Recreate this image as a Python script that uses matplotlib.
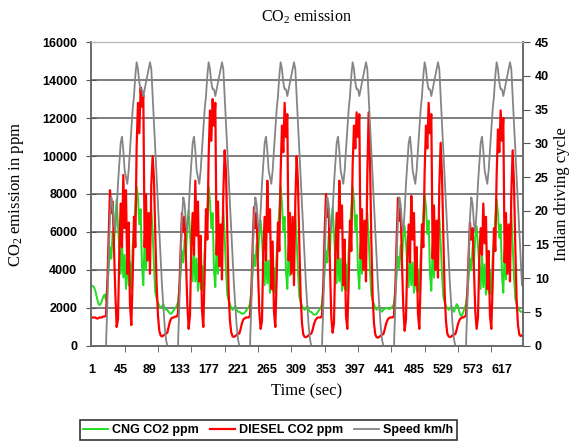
import numpy as np
import matplotlib.pyplot as plt

plt.rcParams['font.family'] = ['Liberation Sans', 'DejaVu Sans']

# time axis, one reading every 2 s, 6 repetitions of the 108 s Indian driving cycle
time_sec = np.arange(1, 648, 2)
x_labels = [1, 45, 89, 133, 177, 221, 265, 309, 353, 397, 441, 485, 529, 573, 617]

# speed profile of one driving cycle (idle then drive), km/h
speed_cycle = [0, 0, 0, 0, 0, 0, 0, 0,
               0, 6, 13, 19, 22, 21, 18, 17, 20, 24, 27, 30, 31, 29, 26, 25, 24, 26,
               29, 32, 35, 37, 40, 42, 41, 39, 38, 38, 37, 38, 39, 40, 41, 42, 41, 37,
               33, 29, 25, 21, 17, 13, 9, 6, 3, 1]
speed = [0, 0, 0] + speed_cycle * 5 + speed_cycle[:51]

# CNG CO2 ppm, per cycle
cng_c1 = [3200, 3150, 3100, 2900, 2600, 2300, 2150, 2200, 2400, 2600, 2700,
          2400, 3200, 4000, 5200, 4600, 6000, 5200, 6800, 7700, 6400, 5000, 3800,
          5600, 3600, 4800, 3000, 5000, 3200, 4400, 3000, 5200, 6200, 7400, 8400,
          7800, 6400, 7200, 4200, 3200, 5600, 4000, 5800, 4600, 6200, 7300, 6000,
          4200, 2800, 2500, 2300, 2100, 2000, 2100, 2200, 2000, 1900]
cng_c2 = [1900, 1800, 1700, 1700, 1800, 1900, 2000, 2100,
          2300, 3000, 3800, 5000, 4400, 5600, 4800, 6400, 7150, 6000, 4600, 3400,
          5200, 3400, 4600, 2900, 4800, 3000, 4200, 2900, 5000, 6000, 7200, 8400,
          7600, 6200, 7000, 4000, 3100, 5400, 3800, 5600, 4400, 6000, 7150, 5800,
          4000, 2700, 2400, 2200, 2000, 1900, 2000, 2100, 1900, 1800]
cng_c3 = [1800, 1750, 1700, 1700, 1750, 1850, 1950, 2050,
          2200, 2900, 3800, 4800, 4200, 5400, 4600, 6000, 6600, 5600, 4400, 3200,
          5000, 3300, 4500, 2800, 4600, 2900, 4100, 2800, 4800, 6000, 7300, 8400,
          7500, 6000, 6800, 3900, 3000, 5200, 3700, 5400, 4200, 5800, 7000, 5600,
          3900, 2600, 2300, 2100, 2000, 1900, 2000, 2100, 1900, 1800]
cng_c4 = [1800, 1700, 1650, 1650, 1700, 1800, 1900, 2000,
          2200, 3000, 3900, 5000, 4400, 5800, 5000, 6600, 7300, 6000, 4600, 3300,
          5200, 3400, 4600, 2900, 4800, 3000, 4300, 2900, 5000, 6100, 7300, 8400,
          7600, 6100, 6900, 4000, 3000, 5300, 3800, 5500, 4300, 5900, 7000, 5700,
          4000, 2700, 2400, 2200, 2000, 1900, 2000, 2100, 1900, 1800]
cng_c5 = [1900, 1950, 2000, 2000, 1950, 1950, 2000, 2100,
          2200, 2900, 3700, 4700, 4100, 5300, 4500, 5800, 6300, 5400, 4300, 3100,
          4900, 3200, 4400, 2800, 4500, 2900, 4000, 2800, 4700, 5800, 7000, 8000,
          7300, 5900, 6600, 3800, 2900, 5100, 3600, 5300, 4100, 5700, 6800, 5500,
          3800, 2600, 2300, 2100, 2000, 1900, 2000, 2100, 1900, 1800]
cng_c6 = [2000, 2200, 2100, 1800, 1600, 1600, 1800, 2000,
          2200, 2800, 3600, 4600, 4000, 5200, 4400, 5800, 6300, 5300, 4200, 3000,
          4800, 3100, 4300, 2700, 4400, 2800, 3900, 2700, 4600, 5600, 6800, 7700,
          7000, 5700, 6400, 3700, 2800, 5000, 3500, 5200, 4000, 5600, 7000, 5400,
          3700, 2500, 2200, 2000, 1900, 1800, 1800]

# DIESEL CO2 ppm, per cycle
diesel_c1 = [1500, 1500, 1500, 1500, 1450, 1450, 1500, 1500, 1500, 1550, 1550,
             1600, 3200, 5800, 8200, 7000, 7600, 5200, 2800, 1000, 1400, 4800, 7500,
             5200, 9000, 6200, 8200, 3800, 6500, 2200, 1100, 3500, 6800, 5200, 10500,
             12800, 11200, 13600, 12600, 13200, 5200, 8000, 4500, 7000, 3800, 8500,
             10000, 8800, 5800, 3200, 1600, 800, 550, 500, 550, 600, 650]
diesel_c2 = [700, 1000, 1300, 1450, 1500, 1500, 1550, 1550,
             1700, 3000, 5000, 7000, 6000, 6800, 4500, 2200, 900, 1600, 5200, 7000,
             4800, 8700, 5800, 7600, 3400, 5800, 1900, 1000, 3800, 7200, 5600, 10000,
             12400, 10800, 13000, 11600, 12800, 4800, 7600, 4200, 6400, 3500, 8000,
             10300, 9200, 6000, 2800, 1300, 700, 500, 480, 520, 580, 650]
diesel_c3 = [650, 900, 1200, 1400, 1450, 1500, 1500, 1500,
             1600, 2800, 5200, 7300, 6200, 7000, 4000, 1800, 900, 1300, 5000, 6800,
             4500, 8700, 6000, 7200, 3000, 5500, 1800, 1000, 3500, 6500, 5000, 9200,
             11600, 10200, 12800, 11000, 12200, 4500, 7000, 3800, 6800, 3200, 7600,
             10000, 8600, 5400, 2600, 1200, 600, 480, 460, 500, 560, 620]
diesel_c4 = [650, 850, 1150, 1350, 1450, 1500, 1500, 1500,
             1600, 3200, 6000, 8000, 6800, 7200, 4200, 1500, 700, 1200, 4800, 7000,
             4600, 8700, 6200, 7400, 3200, 5600, 1600, 900, 3300, 6600, 5000, 9500,
             11600, 10400, 12300, 11000, 12200, 4600, 7200, 4000, 6600, 3400, 9000,
             12300, 9800, 5600, 2600, 1200, 600, 460, 440, 480, 540, 600]
diesel_c5 = [620, 850, 1150, 1350, 1450, 1500, 1500, 1500,
             1600, 3000, 5600, 7800, 6600, 7200, 4400, 2000, 800, 1400, 4600, 6400,
             4400, 7900, 5600, 7000, 3200, 5200, 1700, 900, 3400, 6400, 5200, 9200,
             11600, 10400, 12800, 11200, 12200, 4600, 7400, 4000, 6600, 3600, 8400,
             10700, 9000, 5800, 2800, 1300, 650, 500, 470, 500, 560, 620]
diesel_c6 = [620, 850, 1150, 1350, 1450, 1500, 1500, 1550,
             1600, 2800, 4800, 6500, 5600, 6200, 4000, 1800, 900, 1500, 4600, 6200,
             4800, 7500, 5400, 6800, 3000, 5000, 1600, 900, 3200, 6200, 5000, 9000,
             11400, 10200, 12400, 10800, 12000, 4400, 7000, 3800, 6400, 3400, 8000,
             10300, 8600, 5200, 2400, 1100, 600, 520, 560]

cng = cng_c1 + cng_c2 + cng_c3 + cng_c4 + cng_c5 + cng_c6
diesel = diesel_c1 + diesel_c2 + diesel_c3 + diesel_c4 + diesel_c5 + diesel_c6

serif = ['Liberation Serif', 'DejaVu Serif']

fig = plt.figure(figsize=(5.78, 4.47), dpi=100)
ax = fig.add_axes([0.1574, 0.226, 0.7474, 0.680])
ax2 = ax.twinx()

l1, = ax.plot(time_sec, cng, color='#22dd22', lw=1.4, label='CNG CO2 ppm')
l2, = ax.plot(time_sec, diesel, color='#ff0000', lw=1.6, label='DIESEL CO2 ppm')
l3, = ax2.plot(time_sec, speed, color='#858585', lw=1.3, label='Speed km/h')

ax.set_xlim(0.5, 648.5)
ax.set_ylim(0, 16000)
ax2.set_ylim(0, 45)
for v in range(2000, 16000, 2000):
    ax.axhline(v, color='#5a5a5a', lw=1.1, zorder=0)

ax.set_yticks(range(0, 16001, 2000))
ax2.set_yticks(range(0, 46, 5))
ax.set_xticks(x_labels)
ax.set_xticklabels([str(v) for v in x_labels])
ax.set_xticks(range(1, 648, 50), minor=True)
ax.tick_params(axis='x', which='major', length=0, pad=13)
ax.tick_params(axis='x', which='minor', length=4, direction='out', color='#555555')
ax.tick_params(axis='y', direction='inout', length=7, pad=6.5, color='#555555')
ax2.tick_params(axis='y', direction='out', length=5, color='#555555')
for a in (ax, ax2):
    for lab in a.get_xticklabels() + a.get_yticklabels():
        lab.set_fontsize(9)
        lab.set_fontweight('bold')

for a in (ax, ax2):
    a.spines['top'].set_color('#b5b5b5')
    for s in ('left', 'right', 'bottom'):
        a.spines[s].set_color('#666666')
        a.spines[s].set_linewidth(1.1)

ax.set_ylabel('CO$\\mathregular{_2}$ emission in ppm', fontsize=12, family=serif)
ax.yaxis.set_label_coords(-0.150, 0.5)
ax2.set_ylabel('Indian driving cycle', fontsize=12, family=serif)
ax2.yaxis.set_label_coords(1.072, 0.5)
ax.set_xlabel('Time (sec)', fontsize=12, family=serif)
ax.xaxis.set_label_coords(0.5, -0.122)
fig.text(0.531, 0.962, 'CO$\\mathregular{_2}$ emission', fontsize=11.5, family=serif,
         ha='center', va='center')

leg = fig.legend(handles=[l1, l2, l3], loc='center', bbox_to_anchor=(0.464, 0.038),
                 ncol=3, frameon=True, fancybox=False, handlelength=2.0,
                 columnspacing=0.9, handletextpad=0.3, borderpad=0.3,
                 prop={'size': 9, 'weight': 'bold'})
leg.get_frame().set_edgecolor('black')
leg.get_frame().set_linewidth(1.2)

fig.savefig('out.png', dpi=100)
